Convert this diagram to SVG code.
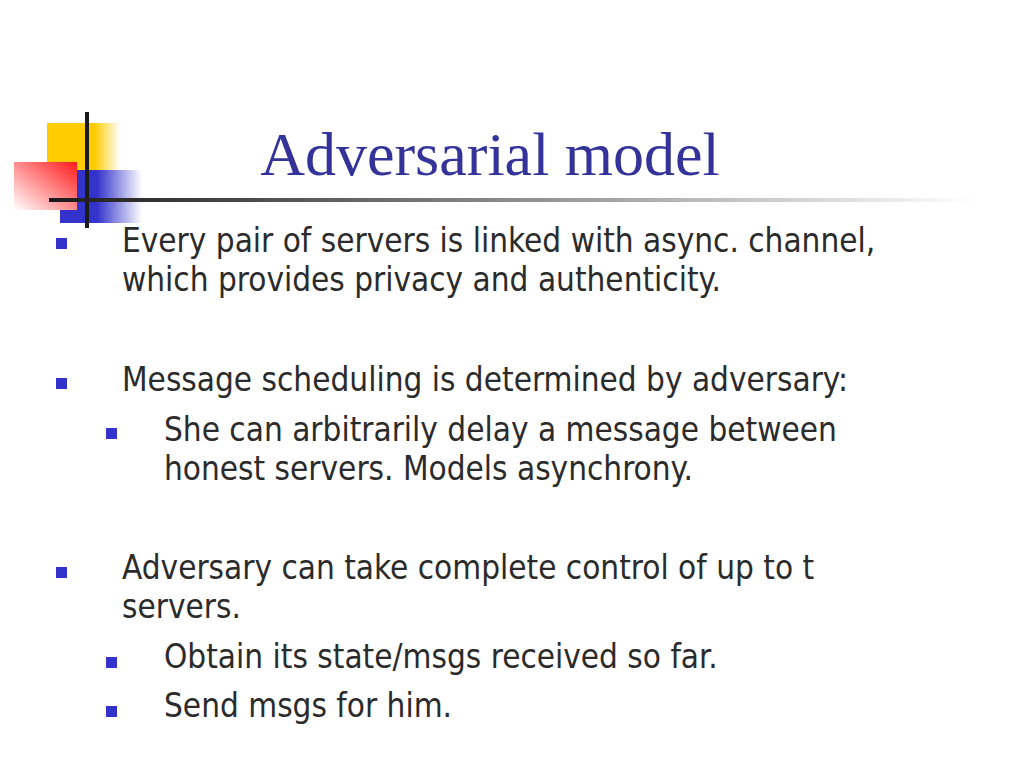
<svg xmlns="http://www.w3.org/2000/svg" width="1024" height="768" viewBox="0 0 1024 768">
<defs>
<linearGradient id="gy" x1="0" y1="0" x2="1" y2="0">
<stop offset="0" stop-color="#FFCC00"/>
<stop offset="0.65" stop-color="#FFCC00"/>
<stop offset="1" stop-color="#FFCC00" stop-opacity="0"/>
</linearGradient>
<linearGradient id="gb" x1="0" y1="0" x2="1" y2="0">
<stop offset="0" stop-color="#3333CC"/>
<stop offset="0.45" stop-color="#3333CC"/>
<stop offset="1" stop-color="#3333CC" stop-opacity="0"/>
</linearGradient>
<linearGradient id="gr" x1="1" y1="0" x2="0" y2="1">
<stop offset="0" stop-color="#FF1A1A"/>
<stop offset="1" stop-color="#FFFFFF"/>
</linearGradient>
<linearGradient id="gl" gradientUnits="userSpaceOnUse" x1="49" y1="0" x2="975" y2="0">
<stop offset="0" stop-color="#1a1a1a"/>
<stop offset="1" stop-color="#ffffff"/>
</linearGradient>
<style>
.t{font-family:"DejaVu Sans Condensed","DejaVu Sans",sans-serif;font-size:33px;fill:#2b2b2b}
.b{fill:#3333CC}
</style>
</defs>
<rect width="1024" height="768" fill="#ffffff"/>
<g id="logo">
<rect x="47" y="123" width="73" height="47" fill="url(#gy)"/>
<rect x="60" y="170" width="82" height="53" fill="url(#gb)"/>
<rect x="14" y="162" width="63" height="48" fill="url(#gr)"/>
<rect x="85" y="112" width="4" height="116" fill="#1a1a1a"/>
<rect x="49" y="198" width="926" height="4" fill="url(#gl)"/>
</g>
<text id="title" x="490" y="175" text-anchor="middle" font-family="Liberation Serif, serif" font-size="62" fill="#333399">Adversarial model</text>
<g id="bullets">
<rect class="b" x="56" y="238" width="11" height="11"/>
<rect class="b" x="56" y="378" width="11" height="11"/>
<rect class="b" x="106" y="428" width="11" height="11"/>
<rect class="b" x="56" y="567" width="11" height="11"/>
<rect class="b" x="106" y="657" width="11" height="11"/>
<rect class="b" x="106" y="706" width="11" height="11"/>
</g>
<g id="body">
<text class="t" x="122" y="252">Every pair of servers is linked with async. channel,</text>
<text class="t" x="122" y="291">which provides privacy and authenticity.</text>
<text class="t" x="122" y="391">Message scheduling is determined by adversary:</text>
<text class="t" x="164" y="441">She can arbitrarily delay a message between</text>
<text class="t" x="164" y="480">honest servers. Models asynchrony.</text>
<text class="t" x="122" y="579">Adversary can take complete control of up to t</text>
<text class="t" x="122" y="618">servers.</text>
<text class="t" x="164" y="668">Obtain its state/msgs received so far.</text>
<text class="t" x="164" y="717">Send msgs for him.</text>
</g>
</svg>
